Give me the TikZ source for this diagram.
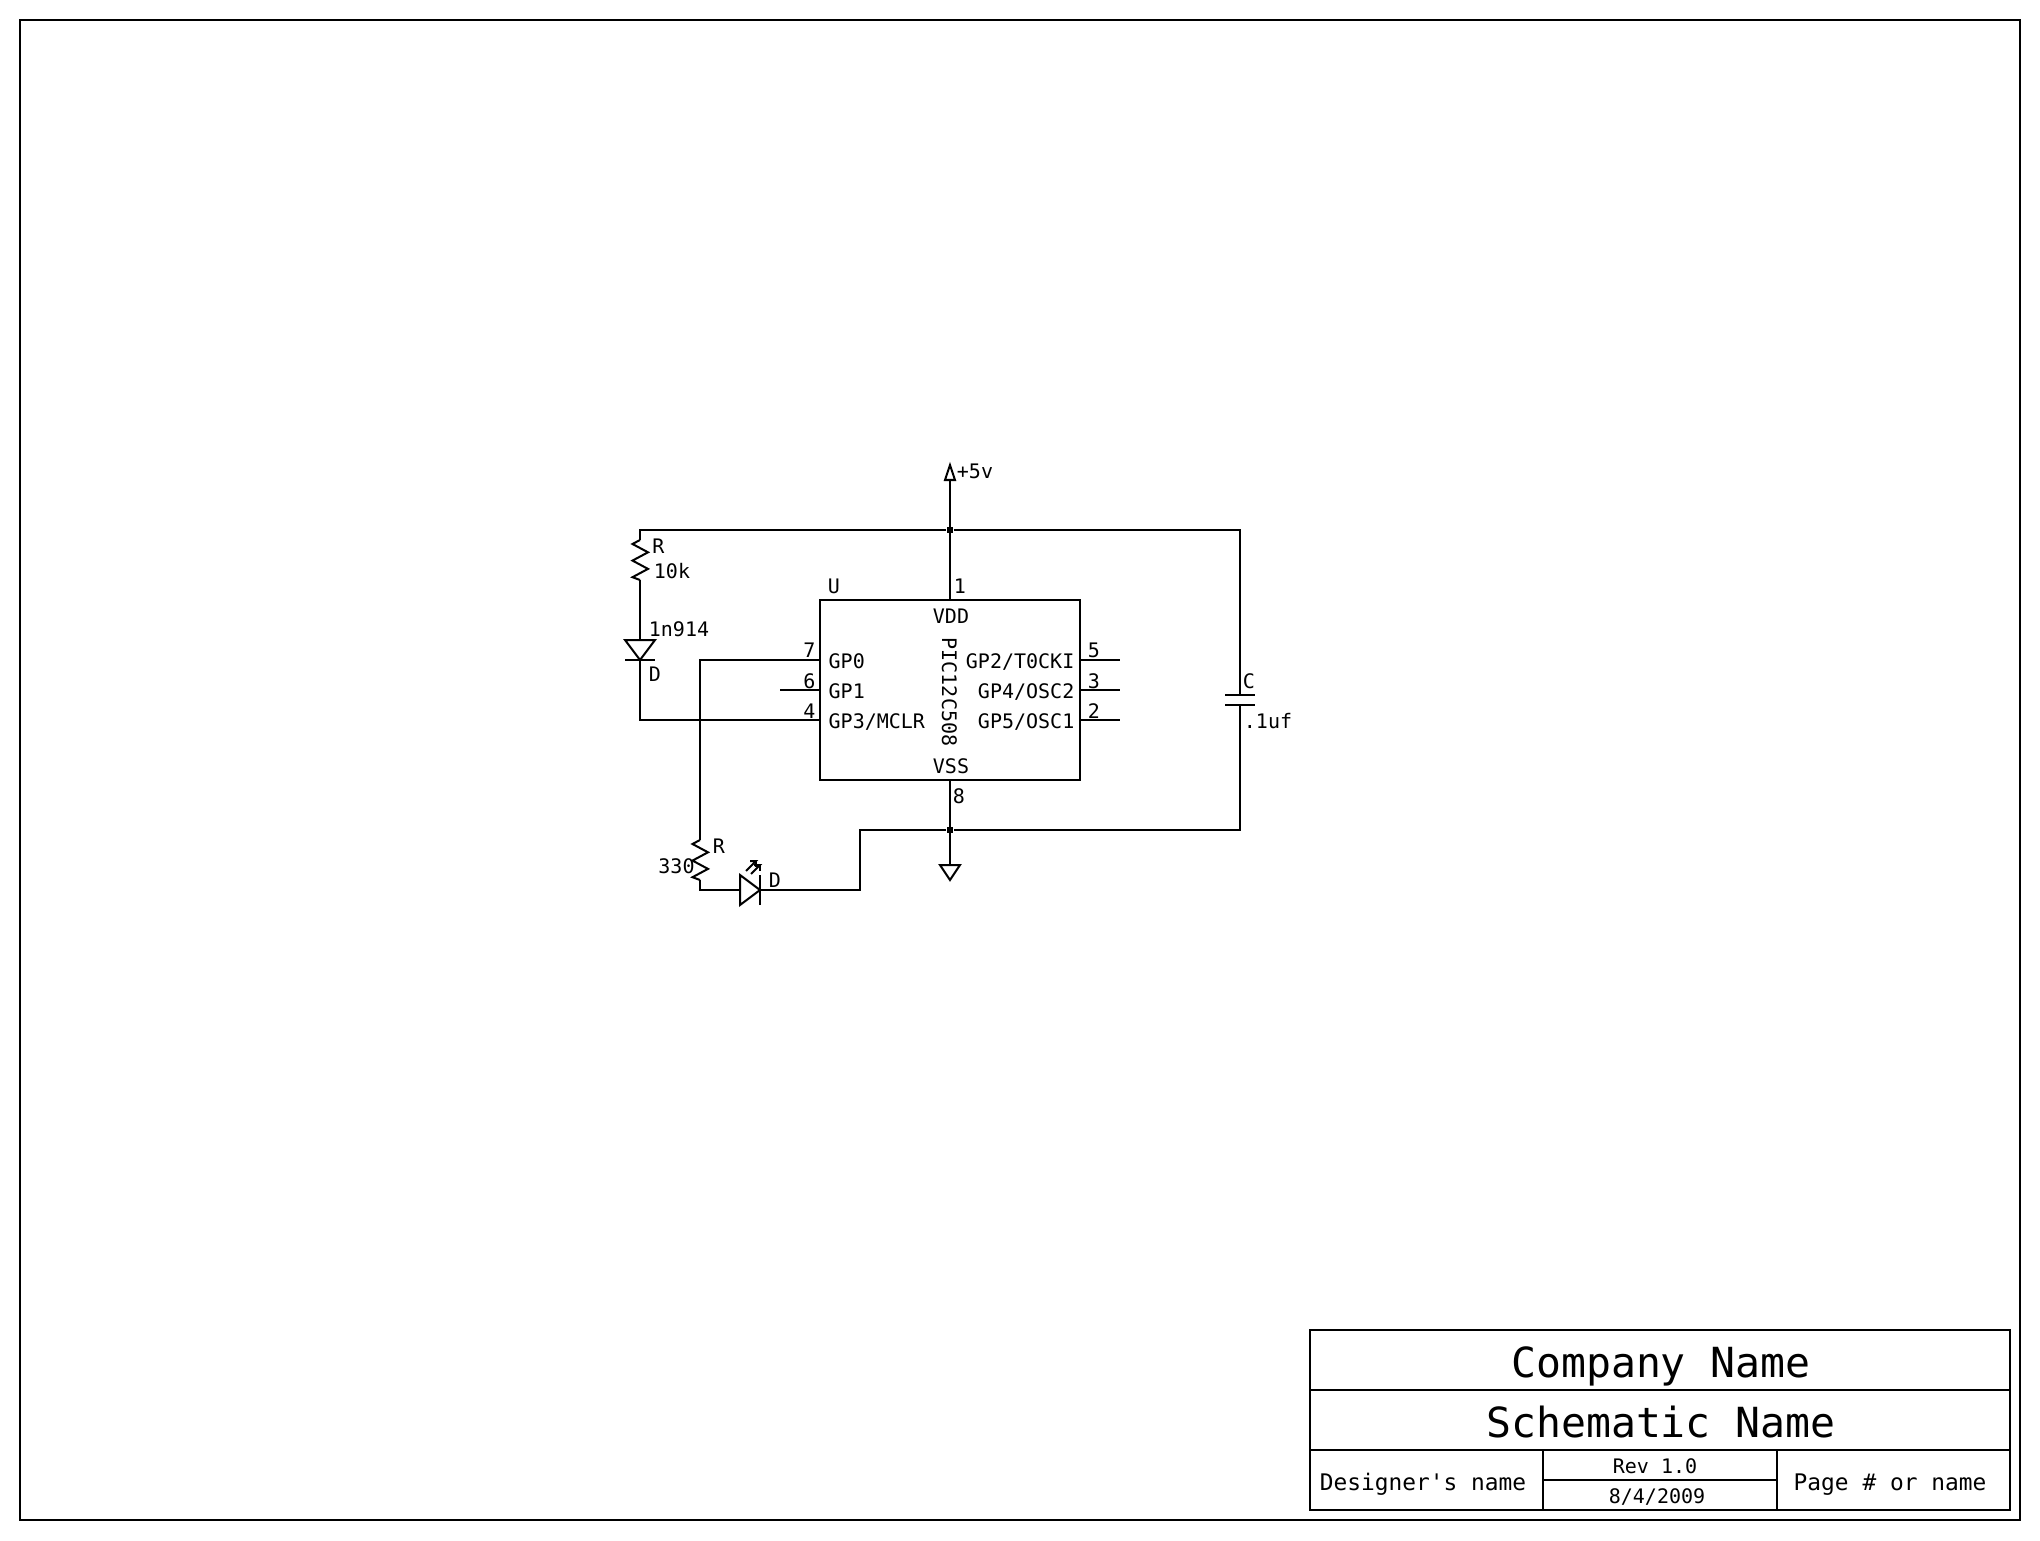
\documentclass[tikz,border=0pt]{standalone}
\usepackage{fontspec}
\setmonofont{DejaVu Sans Mono}
\usepackage{tikz}
\usetikzlibrary{positioning,calc}

\newcommand{\zigzag}[1]{\draw[e] (#1) -- ++(-0.075,-0.04) -- ++(0.155,-0.083) -- ++(-0.155,-0.083) -- ++(0.155,-0.083) -- ++(-0.155,-0.083) -- ++(0.075,-0.028);}

\begin{document}
\begin{tikzpicture}
	\tikzset{
		e/.style={draw=black, line width=0.57pt},
		ic/.style={draw=black, line width=0.57pt, minimum width=2.6cm, minimum height=1.8cm, inner sep=0pt},
		j/.style={rectangle, fill=black, minimum size=0.06cm, inner sep=0pt},
		w/.style={font=\ttfamily\fontsize{5.69}{6}\selectfont, inner sep=0pt, anchor=base},
		wm/.style={font=\ttfamily\fontsize{6.5}{7}\selectfont, inner sep=0pt, anchor=base},
		wl/.style={font=\ttfamily\fontsize{11.8}{13}\selectfont, inner sep=0pt, anchor=base}
	}
	\useasboundingbox (0,0) rectangle (20.4,15.4);
	\draw[e] (0.2,0.2) rectangle (20.2,15.2);

	% title block
	\draw[e] (13.1,0.3) rectangle (20.1,2.1);
	\draw[e] (13.1,1.5) -- (20.1,1.5);
	\draw[e] (13.1,0.9) -- (20.1,0.9);
	\draw[e] (15.43,0.3) -- (15.43,0.9);
	\draw[e] (17.77,0.3) -- (17.77,0.9);
	\draw[e] (15.43,0.6) -- (17.77,0.6);
	\node[wl] (company) at (16.61,1.63) {Company Name};
	\node[wl] (schematic) at (16.61,1.03) {Schematic Name};
	\node[wm] (designer) at (14.23,0.5) {Designer's name};
	\node[w] (rev) at (16.55,0.67) {Rev 1.0};
	\node[w] (date) at (16.57,0.37) {8/4/2009};
	\node[wm] (page) at (18.9,0.5) {Page \# or name};

	% chip and pins
	\node[ic] (u) at (9.5,8.5) {};
	\coordinate (p7) at (8.2,8.8);
	\coordinate (p6) at (8.2,8.5);
	\coordinate (p4) at (8.2,8.2);
	\coordinate (p5) at (10.8,8.8);
	\coordinate (p3) at (10.8,8.5);
	\coordinate (p2) at (10.8,8.2);
	\coordinate (p1) at (9.5,9.4);
	\coordinate (p8) at (9.5,7.6);
	\coordinate (s6) at (7.8,8.5);
	\coordinate (s5) at (11.2,8.8);
	\coordinate (s3) at (11.2,8.5);
	\coordinate (s2) at (11.2,8.2);
	\draw[e] (p6)--(s6);
	\draw[e] (p5)--(s5);
	\draw[e] (p3)--(s3);
	\draw[e] (p2)--(s2);

	\node[w] (lu) at (8.34,9.47) {U};
	\node[w] (lvdd) at (9.51,9.17) {VDD};
	\node[w] (lvss) at (9.51,7.67) {VSS};
	\node[font=\ttfamily\fontsize{5.69}{6}\selectfont, inner sep=0pt, rotate=-90] (lpic) at (9.495,8.48) {PIC12C508};
	\node[w] (l1) at (9.6,9.47) {1};
	\node[w] (l8) at (9.59,7.37) {8};
	\node[w] (l7) at (8.095,8.83) {7};
	\node[w] (l6) at (8.095,8.52) {6};
	\node[w] (l4) at (8.095,8.22) {4};
	\node[w] (l5) at (10.94,8.83) {5};
	\node[w] (l3) at (10.94,8.52) {3};
	\node[w] (l2) at (10.94,8.22) {2};
	\node[w, anchor=base west] (g0) at (8.28,8.72) {GP0};
	\node[w, anchor=base west] (g1) at (8.28,8.42) {GP1};
	\node[w, anchor=base west] (g3) at (8.28,8.12) {GP3/MCLR};
	\node[w, anchor=base east] (g2) at (10.75,8.72) {GP2/T0CKI};
	\node[w, anchor=base east] (g4) at (10.75,8.42) {GP4/OSC2};
	\node[w, anchor=base east] (g5) at (10.75,8.12) {GP5/OSC1};

	% supply rail
	\node[j] (jt) at (9.5,10.1) {};
	\node[j] (jb) at (9.5,7.1) {};
	\coordinate (vcc) at (9.5,10.6);
	\coordinate (gnd) at (9.5,6.75);
	\draw[e] (p1)--(vcc);
	\draw[e] (vcc) -- ++(-0.05,0) -- ++(0.05,0.15) -- ++(0.05,-0.15) -- cycle;
	\node[w] (lvcc) at (9.75,10.62) {+5v};
	\draw[e] (p8)--(gnd);
	\draw[e] (gnd) -- ++(-0.1,0) -- ++(0.1,-0.15) -- ++(0.1,0.15) -- cycle;

	% pull-up and diode
	\coordinate (r1a) at (6.4,10.0);
	\coordinate (r1b) at (6.4,9.6);
	\coordinate (d1a) at (6.4,9.0);
	\coordinate (d1k) at (6.4,8.8);
	\zigzag{r1a}
	\draw[e] (r1b)--(d1a);
	\draw[e] (d1a) -- ++(-0.15,0) -- (d1k) -- (6.55,9.0) -- cycle;
	\draw[e] (d1k) ++(-0.15,0) -- ++(0.3,0);
	\draw[e] (d1k) |- (p4);
	\node[w] (lr1) at (6.585,9.87) {R};
	\node[w] (lr1v) at (6.72,9.62) {10k};
	\node[w] (ld1v) at (6.79,9.04) {1n914};
	\node[w] (ld1) at (6.55,8.59) {D};

	% capacitor
	\coordinate (c1) at (12.4,8.45);
	\coordinate (c2) at (12.4,8.35);
	\draw[e] (r1a) |- (jt) -| (c1);
	\draw[e] (c1) ++(-0.15,0) -- ++(0.3,0);
	\draw[e] (c2) ++(-0.15,0) -- ++(0.3,0);
	\draw[e] (c2) |- (jb);
	\node[w] (lc) at (12.49,8.52) {C};
	\node[w] (lcv) at (12.68,8.12) {.1uf};

	% resistor and led
	\coordinate (r2t) at (7.0,7.0);
	\coordinate (r2b) at (7.0,6.6);
	\coordinate (k1) at (7.4,6.5);
	\coordinate (k2) at (7.6,6.5);
	\coordinate (m1) at (8.6,6.5);
	\draw[e] (p7) -| (r2t);
	\zigzag{r2t}
	\draw[e] (r2b) |- (k1);
	\draw[e] (k1) -- ++(0,0.15) -- (k2) -- (7.4,6.35) -- cycle;
	\draw[e] (k2) ++(0,-0.15) -- ++(0,0.3);
	\draw[e] (k2) -- (m1) |- (jb);
	\draw[e] (7.46,6.69) -- (7.56,6.79) -- ++(-0.06,0);
	\draw[e] (7.56,6.79) -- ++(0,-0.06);
	\draw[e] (7.51,6.66) -- (7.6,6.75) -- ++(-0.06,0);
	\draw[e] (7.6,6.75) -- ++(0,-0.06);
	\node[w] (lr2) at (7.19,6.87) {R};
	\node[w] (lr2v) at (6.765,6.67) {330};
	\node[w] (ld2) at (7.75,6.53) {D};
\end{tikzpicture}
\end{document}
